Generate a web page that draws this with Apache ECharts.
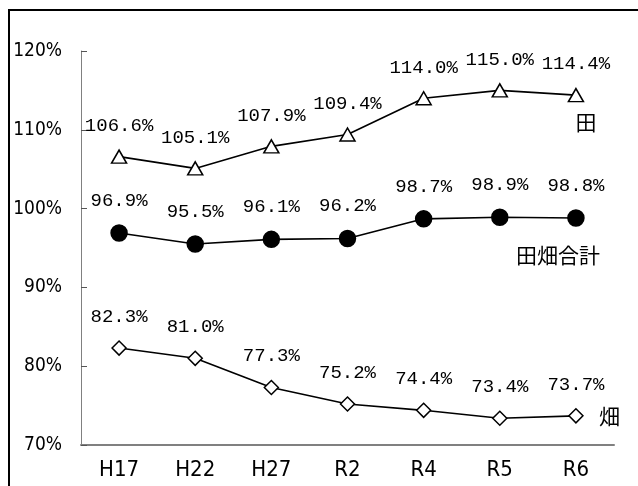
<!DOCTYPE html>
<html>
<head>
<meta charset="utf-8">
<style>
  html, body { margin: 0; padding: 0; background: #fff; }
  #chart { width: 638px; height: 486px; }
</style>
<script src="https://cdn.jsdelivr.net/npm/echarts@6/dist/echarts.min.js"></script>
</head>
<body>
<div id="chart"></div>
<script>
// survey years
const years = ['H17', 'H22', 'H27', 'R2', 'R4', 'R5', 'R6'];
// ratio (%) by land type
const paddy = [106.6, 105.1, 107.9, 109.4, 114.0, 115.0, 114.4];
const total = [96.9, 95.5, 96.1, 96.2, 98.7, 98.9, 98.8];
const upland = [82.3, 81.0, 77.3, 75.2, 74.4, 73.4, 73.7];
const yTicks = [70, 80, 90, 100, 110, 120];

const axisFont = '"Liberation Sans Narrow", "DejaVu Sans Condensed", "Liberation Sans", sans-serif';
const labelFont = '"Liberation Mono", "DejaVu Sans Mono", monospace';
const cjkFont = '"Noto Sans CJK JP", sans-serif';

function makeSeries(name, data, symbol, size, fill, nameLabel) {
  const last = data.length - 1;
  return {
    name,
    type: 'line',
    data,
    symbol,
    symbolSize: size,
    showAllSymbol: true,
    lineStyle: { color: '#000', width: 1.6 },
    itemStyle: { color: fill, borderColor: '#000', borderWidth: 1.5 },
    label: {
      show: true,
      position: 'top',
      distance: 14,
      color: '#000',
      fontFamily: labelFont,
      fontSize: 19,
      formatter: (p) => p.value.toFixed(1) + '%'
    },
    markPoint: {
      symbol: 'circle',
      symbolSize: 0,
      silent: true,
      data: [{
        coord: [years[last], data[last]],
        label: Object.assign({
          show: true,
          color: '#000',
          fontFamily: cjkFont,
          fontSize: 21,
          formatter: name
        }, nameLabel)
      }]
    },
    z: 3
  };
}

const chart = echarts.init(document.getElementById('chart'));
chart.setOption({
  animation: false,
  backgroundColor: '#fff',
  grid: { left: 81, right: 24, top: 51, bottom: 41 },
  graphic: [{
    type: 'rect',
    shape: { x: 9, y: 10, width: 700, height: 600 },
    style: { fill: 'none', stroke: '#000', lineWidth: 2 },
    silent: true
  }],
  xAxis: {
    type: 'category',
    data: years,
    axisLine: { lineStyle: { color: '#808080', width: 2 } },
    axisTick: { inside: true, length: 6, lineStyle: { color: '#555', width: 1 } },
    axisLabel: { color: '#000', fontFamily: axisFont, fontSize: 22, margin: 14 }
  },
  yAxis: {
    type: 'value',
    min: yTicks[0],
    max: yTicks[yTicks.length - 1],
    interval: 10,
    splitLine: { show: false },
    axisLine: { show: true, lineStyle: { color: '#808080', width: 1 } },
    axisTick: { show: true, inside: true, length: 6, lineStyle: { color: '#555' } },
    axisLabel: { color: '#000', fontFamily: axisFont, fontSize: 19, margin: 19, formatter: '{value}%' }
  },
  series: [
    makeSeries('田', paddy, 'triangle', [15, 13], '#fff',
      { position: 'bottom', offset: [10, 11] }),
    makeSeries('田畑合計', total, 'circle', 16, '#000',
      { position: 'bottom', offset: [-18, 21] }),
    makeSeries('畑', upland, 'diamond', 14, '#fff',
      { position: 'right', offset: [18, 0] })
  ]
});
</script>
</body>
</html>
